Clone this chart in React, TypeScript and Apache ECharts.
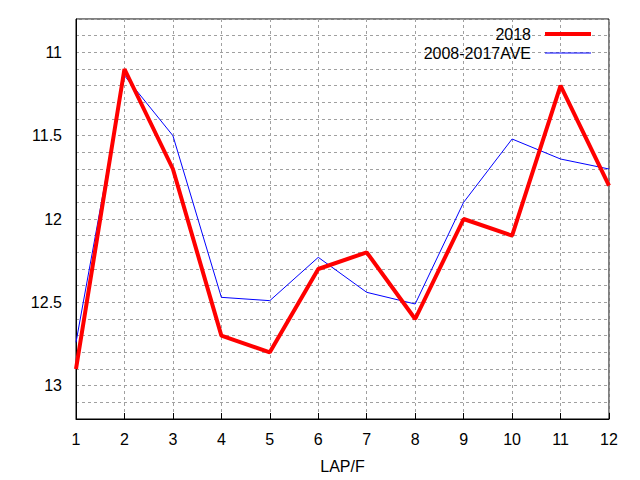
import React, { useEffect, useRef } from "react";
import * as echarts from "echarts";

const laps = ["1", "2", "3", "4", "5", "6", "7", "8", "9", "10", "11", "12"];
const year2018 = [12.9, 11.1, 11.7, 12.7, 12.8, 12.3, 12.2, 12.6, 12.0, 12.1, 11.2, 11.8];
const average = [12.74, 11.14, 11.5, 12.47, 12.49, 12.23, 12.44, 12.51, 11.9, 11.52, 11.64, 11.7];

const font = "'Liberation Sans', Arial, sans-serif";
const labelStyle = { fontFamily: font, fontSize: 16, color: "#000" };

const App: React.FC = () => {
  const chartRef = useRef<HTMLDivElement | null>(null);

  useEffect(() => {
    if (!chartRef.current) return;
    const chart = echarts.init(chartRef.current, undefined, { renderer: "svg" });

    const legendBase = {
      orient: "vertical",
      right: 44,
      align: "right",
      icon: "rect",
      itemWidth: 46,
      textStyle: { ...labelStyle, padding: [0, 9, 0, 0] },
    };

    const option = {
      animation: false,
      backgroundColor: "#fff",
      textStyle: { fontFamily: font },
      grid: {
        left: 76,
        right: 31,
        top: 19,
        bottom: 61,
        show: true,
        borderColor: "#000",
        borderWidth: 1,
      },
      legend: [
        { ...legendBase, top: 21, itemHeight: 4, data: ["2018"] },
        { ...legendBase, top: 40, itemHeight: 1, data: ["2008-2017AVE"] },
      ],
      xAxis: {
        type: "category",
        data: laps,
        boundaryGap: false,
        name: "LAP/F",
        nameLocation: "middle",
        nameGap: 39,
        nameTextStyle: labelStyle,
        axisLine: { lineStyle: { color: "#000" } },
        axisTick: { inside: true, length: 6, lineStyle: { color: "#000" } },
        axisLabel: { ...labelStyle, margin: 12 },
        splitLine: { show: true, lineStyle: { color: "#a0a0a0", type: [3, 3] } },
      },
      yAxis: {
        type: "value",
        inverse: true,
        min: 10.8,
        max: 13.2,
        interval: 0.1,
        axisLine: { show: true, lineStyle: { color: "#000" } },
        axisTick: { show: false },
        axisLabel: {
          ...labelStyle,
          margin: 14,
          formatter: (v: number) =>
            Math.abs(v * 2 - Math.round(v * 2)) < 1e-6 ? String(Math.round(v * 2) / 2) : "",
        },
        splitLine: { show: true, lineStyle: { color: "#a0a0a0", type: [3, 3] } },
      },
      series: [
        {
          name: "2018",
          type: "line",
          data: year2018,
          symbol: "none",
          z: 3,
          lineStyle: { color: "#ff0000", width: 4 },
          itemStyle: { color: "#ff0000" },
        },
        {
          name: "2008-2017AVE",
          type: "line",
          data: average,
          symbol: "none",
          z: 2,
          lineStyle: { color: "#0000ff", width: 1 },
          itemStyle: { color: "#0000ff" },
        },
      ],
    };

    chart.setOption(option);
    return () => chart.dispose();
  }, []);

  return (
    <div
      ref={chartRef}
      style={{ position: "fixed", left: 0, top: 0, width: 640, height: 480 }}
    />
  );
};

export default App;
